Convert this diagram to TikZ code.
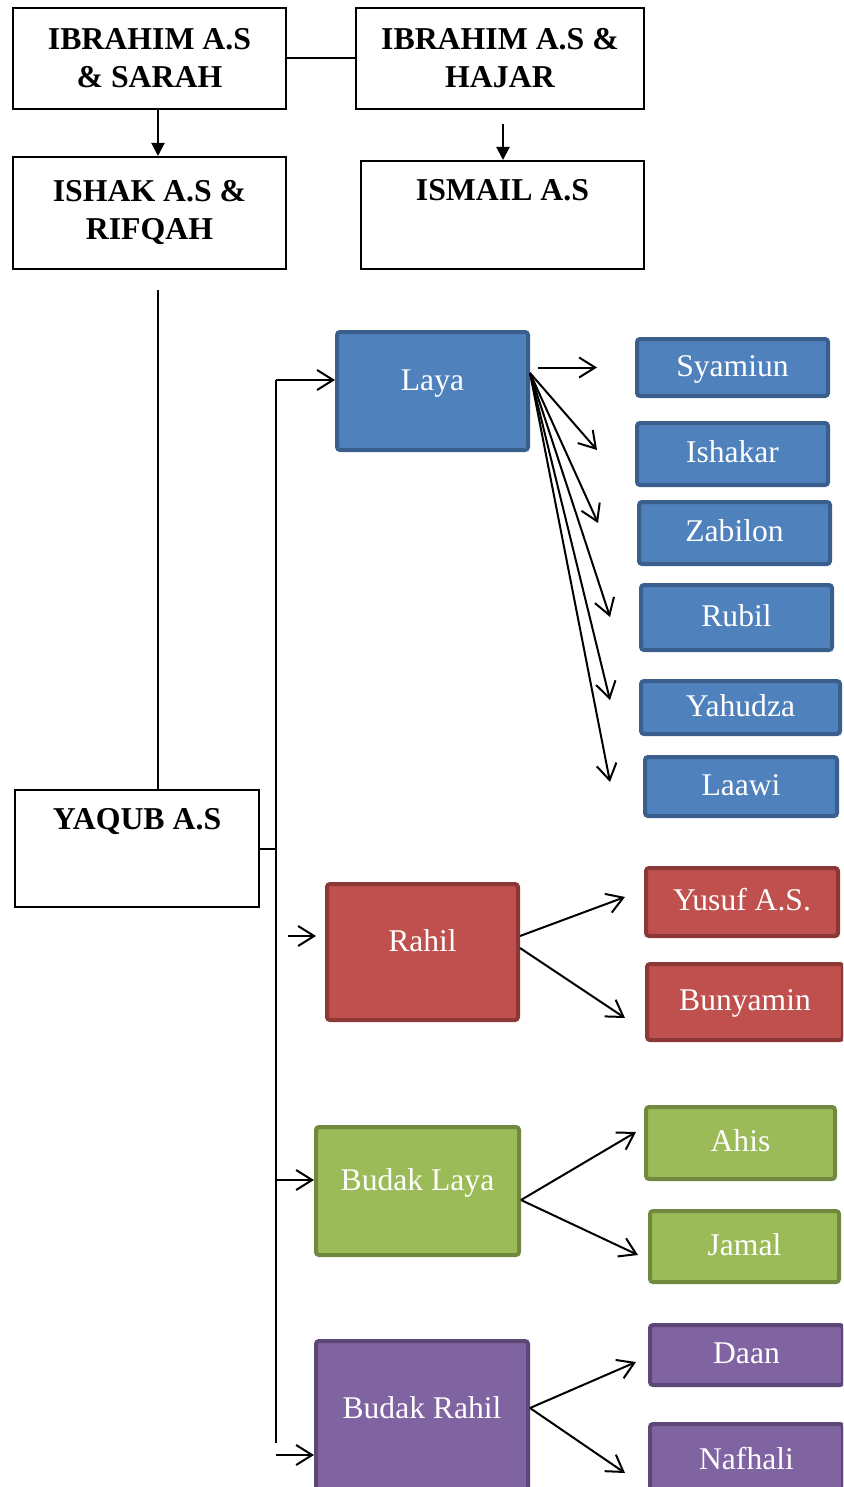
\documentclass[tikz,border=0pt]{standalone}
\usepackage{fontspec}
\setmainfont{Liberation Serif}
\usetikzlibrary{arrows.meta}
\definecolor{biru}{HTML}{4F81BD}
\definecolor{birutua}{HTML}{3A5F8C}
\definecolor{merah}{HTML}{C0504D}
\definecolor{merahtua}{HTML}{8C3836}
\definecolor{hijau}{HTML}{9BBB59}
\definecolor{hijautua}{HTML}{71893F}
\definecolor{ungu}{HTML}{8064A2}
\definecolor{ungutua}{HTML}{5C4776}

\begin{document}
\begin{tikzpicture}[x=0.5pt,y=-0.5pt,
  every node/.style={font=\fontsize{15.8pt}{19pt}\selectfont,inner sep=0pt},
  kotak/.style={draw,line width=1pt,fill=white,align=center,font=\fontsize{15.9pt}{19pt}\selectfont\bfseries},
  anak/.style 2 args={fill=#1,draw=#2,line width=2pt,rounded corners=1.5pt,text=white,text height=11pt,text depth=2.5pt},
  naik/.style={text depth=12pt},
  garis/.style={line width=1pt},
  panah/.style={line width=1pt,-{Straight Barb[length=8pt,width=10pt,line width=1pt]}},
  tegas/.style={line width=1pt,-{Triangle[length=6.5pt,width=6.5pt]}}]
  \useasboundingbox (0,0) rectangle (843,1487);
  \clip (0,0) rectangle (843,1487);
  % generasi atas
  \node[kotak,minimum width=136.5pt,minimum height=50.5pt] (sarah) at (149.5,58.5) {IBRAHIM A.S\\ \& SARAH};
  \node[kotak,minimum width=144pt,minimum height=50.5pt] (hajar) at (500,58.5) {IBRAHIM A.S \&\\ HAJAR};
  \node[kotak,minimum width=136.5pt,minimum height=56pt] (ishak) at (149.5,213) {ISHAK A.S \&\\ RIFQAH};
  \node[kotak,minimum width=141.5pt,minimum height=54pt,text height=11pt,text depth=25.4pt] (ismail) at (502.5,215) {ISMAIL A.S};
  \node[kotak,minimum width=122pt,minimum height=58.5pt,text height=11pt,text depth=29.9pt] (yaqub) at (137,848.5) {YAQUB A.S};
  \draw[garis] (sarah.east) -- (hajar.west);
  \draw[tegas] ([xshift=4.25pt]sarah.south) -- ([xshift=4.25pt]ishak.north);
  \draw[tegas] ([xshift=1.5pt,yshift=-7pt]hajar.south) -- ([xshift=1.5pt]hajar.south |- ismail.north);
  \draw[garis] ([xshift=4.25pt,yshift=-10pt]ishak.south) -- ([xshift=4.25pt]ishak.south |- yaqub.north);
  % istri yaqub
  \node[anak={biru}{birutua},naik,minimum width=95.5pt,minimum height=59pt] (laya) at (432.5,391) {Laya};
  \node[anak={merah}{merahtua},naik,minimum width=95.5pt,minimum height=68pt] (rahil) at (422.5,952) {Rahil};
  \node[anak={hijau}{hijautua},naik,minimum width=101.5pt,minimum height=64pt] (budaklaya) at (417.5,1191) {Budak Laya};
  \node[anak={ungu}{ungutua},naik,minimum width=106pt,minimum height=78.5pt] (budakrahil) at (422,1419.5) {Budak Rahil};
  % anak-anak
  \node[anak={biru}{birutua},minimum width=95.5pt,minimum height=28.5pt] (syamiun) at (732.5,367.5) {Syamiun};
  \node[anak={biru}{birutua},minimum width=95.5pt,minimum height=31pt] (ishakar) at (732.5,454) {Ishakar};
  \node[anak={biru}{birutua},minimum width=95.5pt,minimum height=31pt] (zabilon) at (734.5,533) {Zabilon};
  \node[anak={biru}{birutua},minimum width=95.5pt,minimum height=32.5pt] (rubil) at (736.5,617.5) {Rubil};
  \node[anak={biru}{birutua},minimum width=99.5pt,minimum height=26.5pt] (yahudza) at (740.5,707.5) {Yahudza};
  \node[anak={biru}{birutua},minimum width=96pt,minimum height=29.5pt] (laawi) at (741,786.5) {Laawi};
  \node[anak={merah}{merahtua},minimum width=96pt,minimum height=34pt] (yusuf) at (742,902) {Yusuf A.S.};
  \node[anak={merah}{merahtua},minimum width=98pt,minimum height=38pt] (bunyamin) at (745,1002) {Bunyamin};
  \node[anak={hijau}{hijautua},minimum width=94.5pt,minimum height=36pt] (ahis) at (740.5,1143) {Ahis};
  \node[anak={hijau}{hijautua},minimum width=94.5pt,minimum height=35.5pt] (jamal) at (744.5,1246.5) {Jamal};
  \node[anak={ungu}{ungutua},minimum width=96.5pt,minimum height=30pt] (daan) at (746.5,1355) {Daan};
  \node[anak={ungu}{ungutua},minimum width=96.5pt,minimum height=37pt] (nafhali) at (746.5,1461) {Nafhali};
  % batang dari yaqub
  \coordinate (cabang) at (276,380);
  \coordinate (ujung) at (276,1443);
  \draw[garis] (yaqub.east) -- (yaqub.east -| cabang);
  \draw[garis] (ujung) -- (cabang);
  \draw[panah] (cabang) -- (cabang -| laya.west);
  \draw[panah] ([xshift=-18.5pt,yshift=8pt]rahil.west) -- ([xshift=-4.5pt,yshift=8pt]rahil.west);
  \draw[panah] ([yshift=5.5pt]budaklaya.west -| cabang) -- ([yshift=5.5pt]budaklaya.west);
  \draw[panah] ([yshift=-17.75pt]budakrahil.west -| cabang) -- ([yshift=-17.75pt]budakrahil.west);
  % ujung panah ke anak
  \coordinate (keIshakar) at (597,450);
  \coordinate (keZabilon) at (598,523);
  \coordinate (keRubil) at (610,617);
  \coordinate (keYahudza) at (610,700);
  \coordinate (keLaawi) at (610,782);
  \coordinate (keYusuf) at (625,897);
  \coordinate (keBunyamin) at (625,1018);
  \coordinate (keAhis) at (636,1132);
  \coordinate (keJamal) at (638,1255);
  \coordinate (keDaan) at (636,1362);
  \coordinate (keNafhali) at (625,1473);
  \coordinate (pangkal) at ([yshift=9pt]laya.east);
  \draw[panah] ([xshift=4pt]laya.east |- syamiun.west) -- ([xshift=-19pt]syamiun.west);
  \foreach \n in {Ishakar,Zabilon,Rubil,Yahudza,Laawi}
    \draw[panah] (pangkal) -- (ke\n);
  \draw[panah] ([yshift=8pt]rahil.east) -- (keYusuf);
  \draw[panah] ([yshift=2pt]rahil.east) -- (keBunyamin);
  \draw[panah] ([yshift=-4.5pt]budaklaya.east) -- (keAhis);
  \draw[panah] ([yshift=-4.5pt]budaklaya.east) -- (keJamal);
  \draw[panah] ([yshift=5.75pt]budakrahil.east) -- (keDaan);
  \draw[panah] ([yshift=5.75pt]budakrahil.east) -- (keNafhali);
\end{tikzpicture}
\end{document}
